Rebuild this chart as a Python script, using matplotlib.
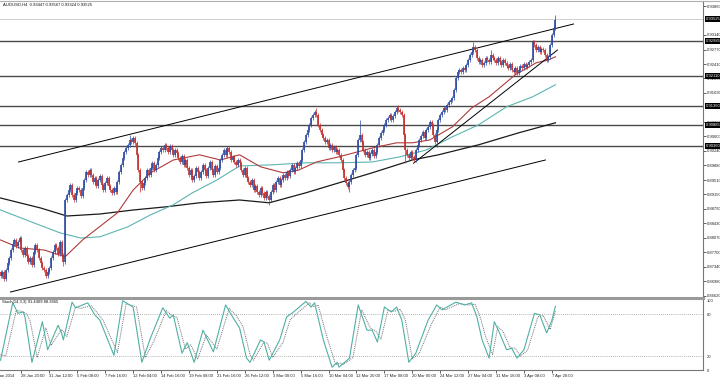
import numpy as np
import matplotlib.pyplot as plt
import matplotlib.transforms as mtransforms
from matplotlib.lines import Line2D

# AUDUSD H4 終値（1本ずつ、チャートから読み取り）
closes = [
    0.8711, 0.8721, 0.8704, 0.8726, 0.8744, 0.8756,
    0.8776, 0.8791, 0.8801, 0.8786, 0.8796, 0.8806,
    0.8776, 0.8764, 0.8781, 0.8761, 0.8746, 0.8756, 0.8739, 0.8771, 0.8789, 0.8776, 0.8756, 0.8744, 0.8731,
    0.8726, 0.8711, 0.8721, 0.8731,
    0.8756, 0.8771, 0.8789, 0.8781, 0.8766, 0.8796, 0.8764, 0.8746,
    0.8901, 0.8914,
    0.8926, 0.8939, 0.8914, 0.8901, 0.8919, 0.8931,
    0.8926, 0.8911, 0.8931,
    0.8951, 0.8971, 0.8964, 0.8976,
    0.8964, 0.8946, 0.8956, 0.8936, 0.8951, 0.8961, 0.8939, 0.8926, 0.8944, 0.8956, 0.8936,
    0.8926, 0.8919, 0.8931, 0.8921,
    0.8946, 0.8971, 0.8989, 0.9006, 0.9021, 0.9031,
    0.9039, 0.9051, 0.9046, 0.9056, 0.9044,
    0.9014, 0.8976, 0.8946, 0.8931,
    0.8944, 0.8956, 0.8976, 0.8964, 0.8981, 0.8994, 0.8976, 0.8989,
    0.9006, 0.9021, 0.9031, 0.9026, 0.9039, 0.9031, 0.9021, 0.9036, 0.9026, 0.9014, 0.9026, 0.9019,
    0.9006, 0.8996, 0.9011, 0.8989, 0.9001,
    0.8981, 0.8964, 0.8976, 0.8951, 0.8961, 0.8981, 0.8971, 0.8956,
    0.8971, 0.8989, 0.8976, 0.8961, 0.8981, 0.8996, 0.8976, 0.8964, 0.8986, 0.8971, 0.8981,
    0.9001, 0.9014, 0.9026, 0.9014, 0.9031, 0.9021, 0.9001, 0.9009, 0.8996, 0.8989, 0.9001,
    0.8994, 0.8976, 0.8964, 0.8981, 0.8956, 0.8946,
    0.8939, 0.8951, 0.8926, 0.8936, 0.8921, 0.8914, 0.8931, 0.8919, 0.8906, 0.8921, 0.8911, 0.8901,
    0.8921, 0.8939, 0.8926, 0.8946, 0.8956, 0.8939, 0.8951, 0.8964, 0.8956, 0.8971, 0.8961,
    0.8976, 0.8989, 0.8971, 0.8981, 0.8994, 0.8986, 0.9001,
    0.9026, 0.9046, 0.9064, 0.9076, 0.9089, 0.9106, 0.9114, 0.9121,
    0.9114, 0.9089, 0.9076, 0.9064,
    0.9056, 0.9046, 0.9051, 0.9031, 0.9039, 0.9026, 0.9034, 0.9021, 0.9026, 0.9014,
    0.9001, 0.8976, 0.8956, 0.8944, 0.8934, 0.8946,
    0.8964, 0.8976, 0.8981,
    0.9014, 0.9051, 0.9064, 0.9046,
    0.9026, 0.9014, 0.9021, 0.9006, 0.9016, 0.9026, 0.9011, 0.9021,
    0.9039, 0.9056, 0.9069, 0.9076,
    0.9089, 0.9101, 0.9106, 0.9114, 0.9101, 0.9111,
    0.9121, 0.9131, 0.9126, 0.9121, 0.9114,
    0.9064, 0.9026,
    0.9014, 0.9006, 0.9021, 0.9009, 0.9001, 0.9026,
    0.9039, 0.9051, 0.9061, 0.9071, 0.9056, 0.9076,
    0.9084, 0.9096, 0.9089,
    0.9064, 0.9046, 0.9076,
    0.9101, 0.9114, 0.9121, 0.9131, 0.9126, 0.9139, 0.9146, 0.9151, 0.9156,
    0.9176, 0.9206, 0.9221, 0.9226, 0.9221, 0.9231,
    0.9226, 0.9239, 0.9251, 0.9264, 0.9271,
    0.9284, 0.9276, 0.9256,
    0.9246, 0.9251, 0.9239, 0.9244, 0.9256, 0.9251, 0.9246,
    0.9264,
    0.9256, 0.9251, 0.9244, 0.9256, 0.9246, 0.9239, 0.9251, 0.9244, 0.9236,
    0.9231, 0.9241, 0.9226, 0.9221, 0.9231, 0.9219,
    0.9226, 0.9236, 0.9231, 0.9241, 0.9234, 0.9239, 0.9246,
    0.9251, 0.9296,
    0.9289, 0.9276, 0.9284, 0.9271, 0.9279, 0.9276,
    0.9264, 0.9251, 0.9259,
    0.9289, 0.9314, 0.9331, 0.9352,
]
first_open = 0.8720
wick = 0.0005
high_spikes = {74: 0.9064, 181: 0.9131, 206: 0.9101, 228: 0.9139, 271: 0.9296, 281: 0.9276, 318: 0.9364}
low_spikes = {27: 0.8706, 36: 0.8736, 80: 0.8921, 154: 0.8888, 200: 0.8921, 232: 0.8994, 250: 0.9034}

# 移動平均線（バー番号, 価格）
red_x = [0, 11, 25, 37, 47, 67, 76, 86, 99, 114, 126, 137, 149, 162, 171, 181, 194, 213, 227, 236,
         246, 259, 270, 280, 295, 307, 314, 318]
red_v = [0.8801, 0.8781, 0.8776, 0.8759, 0.8801, 0.8869, 0.8926, 0.8969, 0.9001, 0.9014,
         0.9001, 0.9014, 0.8984, 0.8969, 0.8976, 0.8996, 0.9009, 0.9031, 0.9044, 0.9044,
         0.9051, 0.9084, 0.9131, 0.9159, 0.9214, 0.9244, 0.9251, 0.9259]
teal_x = [0, 19, 34, 46, 57, 73, 86, 99, 110, 124, 137, 156, 175, 194, 213, 229, 244, 259, 274, 290, 305, 318]
teal_v = [0.8876, 0.8844, 0.8819, 0.8806, 0.8809, 0.8834, 0.8864, 0.8889, 0.8919, 0.8951, 0.8986,
          0.8989, 0.8994, 0.8994, 0.8996, 0.9009, 0.9026, 0.9059, 0.9089, 0.9134, 0.9159, 0.9189]
black_x = [0, 11, 23, 38, 57, 76, 95, 114, 137, 154, 175, 194, 213, 236, 251, 274, 297, 318]
black_v = [0.8906, 0.8894, 0.8881, 0.8861, 0.8866, 0.8876, 0.8884, 0.8894, 0.8901, 0.8894,
           0.8919, 0.8944, 0.8969, 0.9001, 0.9014, 0.9039, 0.9069, 0.9094]

# トレンドライン（始点・終点）
trend_upper = ([10.3, 328.4], [0.8996, 0.9341])
trend_lower = ([5.7, 312.3], [0.8671, 0.9001])
trend_short = ([236.7, 319.2], [0.8993, 0.9276])

# 水平線と現在値
levels = [0.92985, 0.92110, 0.91360, 0.90885, 0.90360]
bid = 0.93525
price_ticks = [0.93860, 0.93140, 0.92770, 0.92410, 0.92050, 0.91690, 0.90960, 0.90600, 0.90240,
               0.89880, 0.89510, 0.89150, 0.88790, 0.88430, 0.88070, 0.87700, 0.87340, 0.86980, 0.86620]

# ストキャスティクス
stoch_x = [0, 7, 10, 13, 14, 18, 24, 27, 33, 35, 36, 41, 43, 50, 54, 57, 65, 70, 76, 81,
           86, 93, 97, 99, 104, 107, 111, 116, 122, 129, 133, 137, 141, 143, 149, 151, 154, 160, 164, 167,
           175, 178, 180, 185, 190, 193, 194, 200, 205, 210, 213, 216, 220, 224, 227, 230, 234, 238, 245, 250,
           253, 261, 266, 270, 273, 276, 280, 283, 286, 290, 293, 296, 300, 306, 309, 313, 316, 318]
stoch_k = [14, 96, 81, 83, 76, 11, 69, 29, 64, 53, 43, 97, 89, 96, 79, 71, 21, 99, 90, 11,
           46, 89, 74, 79, 24, 39, 11, 57, 26, 93, 76, 60, 17, 11, 43, 40, 14, 43, 76, 81,
           98, 90, 96, 43, 4, 11, 4, 17, 93, 57, 57, 40, 90, 83, 90, 71, 11, 24, 71, 93,
           86, 97, 93, 96, 76, 43, 17, 69, 53, 29, 31, 17, 29, 81, 79, 53, 71, 91]
sig_x = [0, 3, 9, 12, 15, 17, 21, 26, 29, 35, 38, 43, 46, 52, 56, 59, 67, 72, 78, 83,
         88, 95, 99, 101, 106, 109, 113, 118, 124, 131, 135, 139, 143, 145, 151, 153, 156, 162, 166, 169,
         177, 180, 182, 187, 192, 195, 196, 202, 207, 212, 215, 218, 222, 226, 229, 232, 236, 240, 247, 252,
         255, 263, 268, 272, 275, 278, 282, 285, 288, 292, 295, 298, 302, 308, 311, 315, 318]
sig_d = [22, 20, 85, 84, 80, 70, 18, 60, 35, 58, 48, 90, 88, 92, 80, 70, 25, 95, 90, 18,
         42, 85, 76, 76, 30, 36, 16, 50, 30, 88, 78, 62, 22, 14, 40, 38, 18, 40, 72, 79,
         96, 90, 93, 48, 8, 10, 7, 18, 86, 60, 56, 44, 85, 84, 87, 72, 16, 24, 66, 90,
         86, 95, 93, 94, 75, 48, 22, 62, 55, 32, 31, 20, 28, 76, 78, 58, 84]

# 時間軸ラベル（16本ごと）
time_labels = ["28 Jan 20:00", "31 Jan 12:00", "5 Feb 08:00", "7 Feb 16:00", "12 Feb 04:00",
               "14 Feb 16:00", "19 Feb 08:00", "21 Feb 16:00", "26 Feb 12:00", "3 Mar 00:00",
               "5 Mar 16:00", "10 Mar 04:00", "12 Mar 20:00", "17 Mar 08:00", "20 Mar 00:00",
               "24 Mar 12:00", "27 Mar 04:00", "31 Mar 16:00", "3 Apr 08:00", "7 Apr 20:00"]
first_label_bar = 12
label_step = 16

# ---- 描画 ----
FONT = ["Liberation Sans Narrow", "Liberation Sans", "DejaVu Sans"]
plt.rcParams["font.family"] = FONT
fs = 3.0
W, H = 720, 380
fx = lambda px: px / W
fy = lambda py: 1 - py / H

fig = plt.figure(figsize=(7.2, 3.8), dpi=100, facecolor="white")
ax = fig.add_axes([0, fy(297), fx(703), 296 / H])
ax2 = fig.add_axes([0, fy(370), fx(703), 71 / H])

n = len(closes)
idx = np.arange(n)
c = np.array(closes)
o = np.concatenate([[first_open], c[:-1]])
hi = np.maximum(o, c) + wick
lo = np.minimum(o, c) - wick
for k, v in high_spikes.items():
    hi[k] = v
for k, v in low_spikes.items():
    lo[k] = v
up = c >= o
col_up, col_dn = "#2d4aa0", "#c0302c"
colors = np.where(up, col_up, col_dn)
ax.vlines(idx, lo, hi, colors=colors, lw=0.5, zorder=3)
body_lo = np.minimum(o, c)
body_hi = np.maximum(np.maximum(o, c), body_lo + 0.0001)
ax.vlines(idx, body_lo, body_hi, colors=colors, lw=1.2, zorder=4)

ax.plot(black_x, black_v, color="#1a1a1a", lw=0.9, zorder=2)
ax.plot(teal_x, teal_v, color="#5cb5b0", lw=0.8, zorder=2)
ax.plot(red_x, red_v, color="#b03a3a", lw=0.8, zorder=2)

for tl in (trend_upper, trend_lower, trend_short):
    ax.plot(tl[0], tl[1], color="black", lw=0.7, zorder=2)

for lv in levels:
    ax.axhline(lv, color="#4a4a4a", lw=1.0, zorder=1)
ax.axhline(bid, color="#c8c8c8", lw=0.6, zorder=1)

ax.set_xlim(-0.3, 402.6)
ax.set_ylim(0.86585, 0.93985)
ax.yaxis.tick_right()
ax.set_yticks(price_ticks)
ax.set_yticklabels([f"{t:.5f}" for t in price_ticks])
ax.tick_params(axis="y", labelsize=fs, length=2, width=0.5, pad=1, colors="#222222")
ax.set_xticks([])
for s in ("left", "top", "bottom"):
    ax.spines[s].set_visible(False)
ax.spines["right"].set_color("#777777")
ax.spines["right"].set_linewidth(0.8)
ax.set_facecolor("white")

trans = mtransforms.blended_transform_factory(ax.transAxes, ax.transData)
for lv in levels + [bid]:
    ax.text(1.004, lv, f"{lv:.5f}", transform=trans, ha="left", va="center",
            fontsize=fs, color="white", clip_on=False, zorder=10,
            bbox=dict(boxstyle="square,pad=0.25", fc="black", ec="none"))

fig.text(fx(3), fy(5), "AUDUSD,H4  0.93447 0.93567 0.93324 0.93525",
         fontsize=fs, va="center", ha="left", color="#111111")

# ストキャスティクス
ax2.axhline(80, color="#999999", lw=0.6, ls=(0, (1, 1.5)))
ax2.axhline(20, color="#999999", lw=0.6, ls=(0, (1, 1.5)))
ax2.plot(sig_x, sig_d, color="#707070", lw=0.7, ls=(0, (1, 1)))
ax2.plot(stoch_x, stoch_k, color="#4fb0a5", lw=0.8)
ax2.set_xlim(ax.get_xlim())
ax2.set_ylim(0, 101.5)
ax2.yaxis.tick_right()
ax2.set_yticks([0, 20, 80, 100])
ax2.set_yticklabels(["0", "20", "80", "100"])
ax2.tick_params(axis="y", labelsize=fs, length=0, pad=3, colors="#222222")
tick_pos = [first_label_bar + label_step * k for k in range(len(time_labels))]
ax2.set_xticks(tick_pos)
ax2.set_xticklabels(time_labels, ha="left")
ax2.tick_params(axis="x", labelsize=fs, length=2, width=0.5, pad=1, colors="#222222")
for s in ("left", "top"):
    ax2.spines[s].set_visible(False)
for s in ("right", "bottom"):
    ax2.spines[s].set_color("#777777")
    ax2.spines[s].set_linewidth(0.8)
ax2.text(0.003, 0.98, "Stoch(14,3,3) 91.4409 88.3665", transform=ax2.transAxes,
         fontsize=fs, va="top", ha="left", color="#111111")
fig.text(fx(14), fy(376), "27 Jan 2014", fontsize=fs, ha="right", va="center", color="#222222")

# パネル区切り線と上端
fig.add_artist(Line2D([0, fx(703)], [fy(298), fy(298)], transform=fig.transFigure,
                      color="#9a9a9a", lw=2.2))
fig.add_artist(Line2D([0, 1], [fy(0.5), fy(0.5)], transform=fig.transFigure,
                      color="#b0b0b0", lw=0.8))

fig.savefig("out.png", dpi=100, facecolor="white")
